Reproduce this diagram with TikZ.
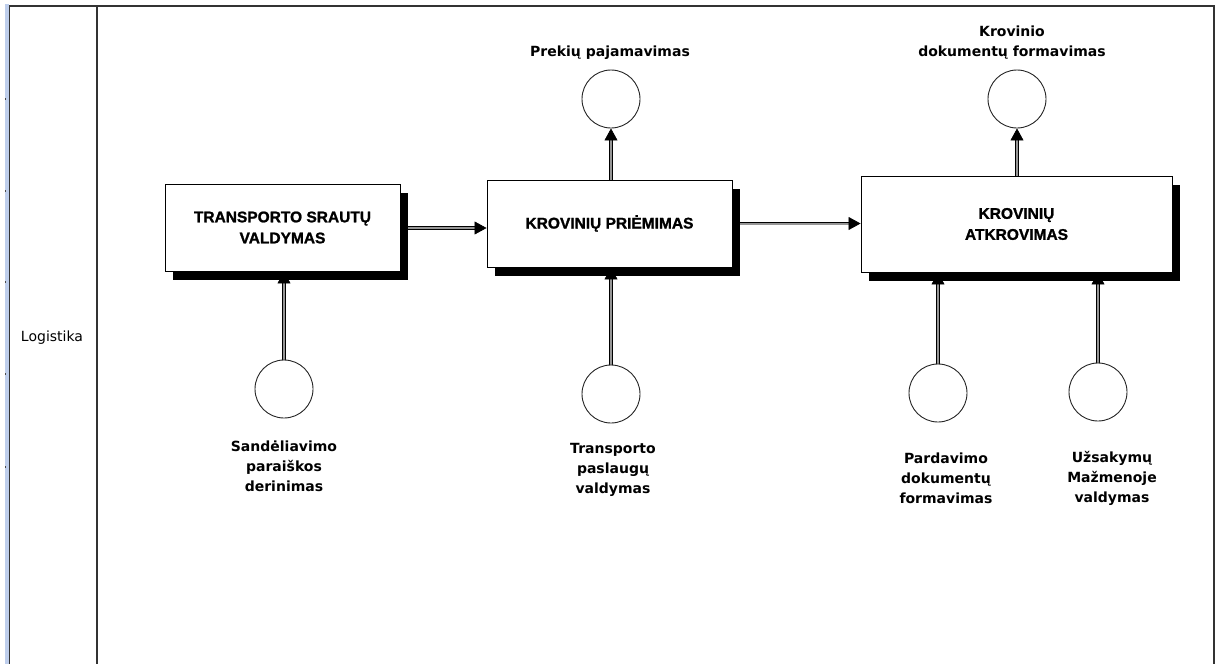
\documentclass[tikz,border=0pt]{standalone}
\usepackage{fontspec}
\setmainfont{DejaVu Sans}
\newfontfamily\boxfont[BoldFeatures={FakeBold=1.3}]{Liberation Sans}
\usetikzlibrary{arrows.meta,shadows}
\pgfdeclarelayer{links}
\pgfsetlayers{links,main}
\definecolor{stripe}{RGB}{190,206,236}
\definecolor{pipe}{RGB}{150,150,150}
\begin{document}
\begin{tikzpicture}[x=1pt,y=-1pt,
  procbox/.style={draw=black, line width=0.9pt, fill=white, align=center,
    font=\boxfont\bfseries\fontsize{15.5}{21}\selectfont,
    drop shadow={shadow xshift=8pt, shadow yshift=-9pt, opacity=1, fill=black}},
  port/.style={circle, draw=black!85, line width=0.9pt, fill=white,
    minimum size=58pt, inner sep=0pt},
  caption/.style={align=center, font=\bfseries\fontsize{14}{20}\selectfont},
  flow/.style={draw=black, line width=0.7pt, double=pipe, double distance=2pt,
    -{Triangle[length=12pt,width=13pt]}},
  frame/.style={draw=black!80, line width=1.2pt}]

\useasboundingbox (0,0) rectangle (1219,664);

% swimlane frame
\fill[stripe] (5,4) rectangle (8.5,664);
\foreach \ty in {99,191,282,374,467}
  \fill[black!70] (4.5,\ty-0.8) rectangle (6,\ty+0.8);
\draw[frame] (9.5,664) -- (9.5,6) -- (1214,6) -- (1214,664);
\draw[black!80, line width=1.6pt] (97,6) -- (97,664);
\node[font=\fontsize{14}{16}\selectfont] (lane) at (52,338) {Logistika};

% process boxes
\node[procbox, minimum width=235pt, minimum height=87pt] (b1) at (282.5,227.5)
  {TRANSPORTO SRAUTŲ\\VALDYMAS};
\node[procbox, minimum width=245pt, minimum height=87pt] (b2) at (609.5,223.5)
  {KROVINIŲ PRIĖMIMAS};
\node[procbox, minimum width=311pt, minimum height=96pt] (b3) at (1016.5,224)
  {KROVINIŲ\\ATKROVIMAS};

% interface circles
\node[port] (cPrek) at (611,99) {};
\node[port] (cKrov) at (1017,99) {};
\node[port] (cSand) at (284,389) {};
\node[port] (cTran) at (611,394) {};
\node[port] (cPard) at (938,393) {};
\node[port] (cUzs)  at (1098,392) {};

% captions
\node[caption] (tPrek) at (610,53) {Prekių pajamavimas};
\node[caption] (tKrov) at (1012,43) {Krovinio\\ dokumentų formavimas};
\node[caption] (tSand) at (284,466) {Sandėliavimo\\paraiškos\\ derinimas};
\node[caption] (tTran) at (613,470) {Transporto\\paslaugų\\ valdymas};
\node[caption] (tPard) at (946,478) {Pardavimo\\dokumentų\\formavimas};
\node[caption] (tUzs)  at (1112,478) {Užsakymų\\ Mažmenoje\\valdymas};

% connectors, kept behind boxes and their shadows
\begin{pgfonlayer}{links}
  \draw[flow] (b1.east |- 0,228) -- (b2.west |- 0,228);
  \draw[flow] (b2.east) -- (b2.east -| b3.west);
  \draw[flow] (cPrek |- b2.north) -- (cPrek.south);
  \draw[flow] (cKrov |- b3.north) -- (cKrov.south);
  \draw[flow] (cSand.north) -- (cSand |- b1.south);
  \draw[flow] (cTran.north) -- (cTran |- b2.south);
  \draw[flow] (cPard.north) -- (cPard |- b3.south);
  \draw[flow] (cUzs.north) -- (cUzs |- b3.south);
\end{pgfonlayer}
\end{tikzpicture}
\end{document}
